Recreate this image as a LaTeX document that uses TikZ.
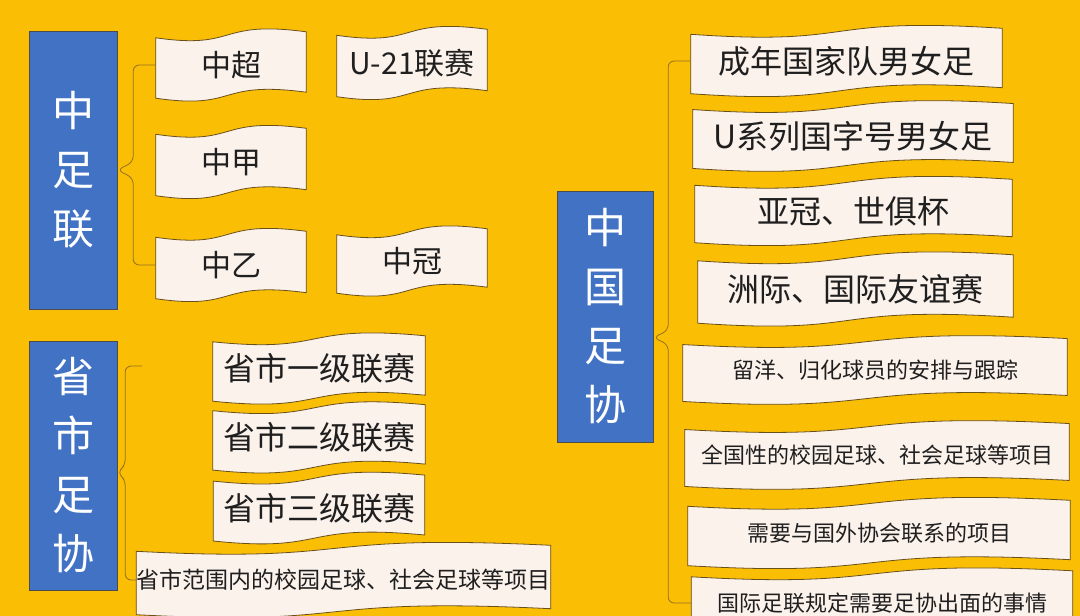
\documentclass[tikz,border=0pt]{standalone}
\usepackage{fontspec}
\setmainfont{Noto Sans CJK SC}
\usetikzlibrary{positioning, calc}

\definecolor{bgyellow}{RGB}{250,190,4}
\definecolor{orgblue}{RGB}{66,114,196}
\definecolor{flagcream}{RGB}{252,242,236}
\definecolor{flagline}{RGB}{105,80,25}
\definecolor{braceline}{RGB}{150,112,35}

\pgfdeclarelayer{backdrop}
\pgfdeclarelayer{flags}
\pgfsetlayers{backdrop,flags,main}

% wavy banner drawn round a named node
\newcommand\wavebox[1]{%
  \path[flagshape] let \p1=(#1.south west), \p2=(#1.north east), \n1={\x2-\x1} in
    (\x1,\y2-3pt) .. controls (\x1+0.55*\n1,\y2-15pt) and (\x1+0.4*\n1,\y2+15pt) .. (\x2,\y2+3pt)
    -- (\x2,\y1+3pt) .. controls (\x1+0.4*\n1,\y1+15pt) and (\x1+0.55*\n1,\y1-15pt) .. (\x1,\y1-3pt) -- cycle;}

\begin{document}
\begin{tikzpicture}[
    x=1pt, y=-1pt,
    org/.style={rectangle, draw=black!70, fill=orgblue, text=white, inner sep=0pt, align=center, font=\fontsize{42}{59}\selectfont},
    flag/.style={rectangle, inner sep=0pt, text=black!88, font=\fontsize{32}{36}\selectfont},
    midflag/.style={flag, font=\fontsize{30}{34}\selectfont},
    smallflag/.style={flag, font=\fontsize{22}{26}\selectfont},
    bracket/.style={draw=braceline, line width=0.8pt, rounded corners=6pt},
    flagshape/.style={fill=flagcream, draw=flagline, line width=0.8pt}
]

% 背景
\begin{pgfonlayer}{backdrop}
\fill[bgyellow] (0,0) rectangle (1080,616);
\end{pgfonlayer}
\useasboundingbox (0,0) rectangle (1080,616);

% 中足联
\node[org, minimum width=88pt, minimum height=278pt] (zzl) at (73,170) {中\\足\\联};
\node[midflag, minimum width=150pt, minimum height=60pt] (chao) at (231,65) {中超};
\node[midflag, minimum width=150pt, minimum height=61pt] (u21) at (412,63) {U-21联赛};
\node[midflag, minimum width=150pt, minimum height=61pt] (jia) at (231,162) {中甲};
\node[midflag, minimum width=150pt, minimum height=61pt] (yi) at (231,265) {中乙};
\node[midflag, minimum width=150pt, minimum height=58pt] (guan) at (412,261) {中冠};

% 省市足协
\node[org, minimum width=88pt, minimum height=249pt] (sszx) at (73,465.5) {省\\市\\足\\协};
\node[flag, minimum width=212pt, minimum height=59pt] (yiji) at (319,368.5) {省市一级联赛};
\node[flag, minimum width=212pt, minimum height=59pt, below=9.5pt of yiji] (erji) {省市二级联赛};
\node[flag, minimum width=211pt, minimum height=59.5pt, below=11pt of erji] (sanji) {省市三级联赛};
\node[smallflag, font=\fontsize{23}{27}\selectfont, minimum width=403pt, minimum height=63pt] (fanwei) at (343.5,580) {省市范围内的校园足球、社会足球等项目};

% 中国足协
\node[org, minimum width=96pt, minimum height=251pt] (zgzx) at (605,316.5) {中\\国\\足\\协};
\node[flag, minimum width=311pt, minimum height=59pt] (chengnian) at (846.5,61) {成年国家队男女足};
\node[flag, minimum width=320pt, minimum height=58.5pt] (uxilie) at (853,136) {U系列国字号男女足};
\node[flag, minimum width=317pt, minimum height=57pt] (yaguan) at (853.5,211) {亚冠、世俱杯};
\node[flag, minimum width=315pt, minimum height=62pt] (zhouji) at (855.5,289) {洲际、国际友谊赛};
\node[smallflag, minimum width=384pt, minimum height=56.5pt] (liuyang) at (875,370) {留洋、归化球员的安排与跟踪};
\node[smallflag, minimum width=384pt, minimum height=56.5pt] (quanguo) at (877,455) {全国性的校园足球、社会足球等项目};
\node[smallflag, minimum width=382pt, minimum height=59pt] (xuyao) at (879,533) {需要与国外协会联系的项目};
\node[smallflag, minimum width=381pt, minimum height=58pt] (guoji) at (882,603) {国际足联规定需要足协出面的事情};

% 波浪框
\begin{pgfonlayer}{flags}
\foreach \f in {chao,u21,jia,yi,guan,yiji,erji,sanji,fanwei,chengnian,uxilie,yaguan,zhouji,liuyang,quanguo,xuyao,guoji}
  {\wavebox{\f}}
\end{pgfonlayer}

% 括号连线
\draw[bracket] (chao.west) -| ($(zzl.east)+(16,-8)$) -- (zzl.east) -- ($(zzl.east)+(16,8)$) |- (yi.west);

\coordinate (ss-top) at (142,366);
\coordinate (ss-tip) at ($(sszx.east)+(0,7)$);
\draw[bracket] (ss-top) -| ($(ss-tip)+(8,-7)$) -- (ss-tip) -- ($(ss-tip)+(8,7)$) |- (fanwei.west);

\coordinate (zg-tip) at ($(zgzx.east)+(0,21)$);
\draw[bracket] (chengnian.west) -| ($(zg-tip)+(15,-7)$) -- (zg-tip) -- ($(zg-tip)+(15,7)$) |- (guoji.west);
\end{tikzpicture}
\end{document}
